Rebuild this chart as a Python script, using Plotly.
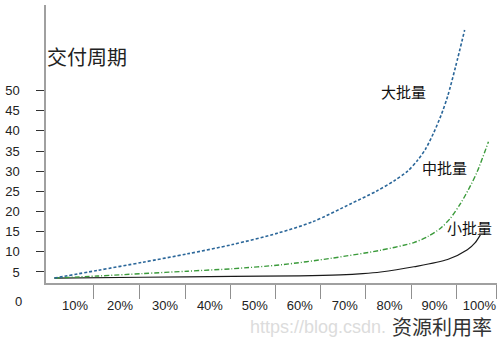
import plotly.graph_objects as go

# utilization (%) and delivery cycle values
large_x = [5.4, 15, 25, 35, 45, 55, 63, 71.5, 77, 81, 84, 86.3, 88, 89.8, 91.5, 92.9, 94.7, 96.7]
large_y = [3.5, 5.4, 7.4, 9.5, 11.8, 14.6, 17.5, 22.0, 25.0, 27.6, 30.0, 32.8, 35.5, 39.5, 44.0, 48.5, 56.0, 65.0]

medium_x = [5.4, 15, 25, 35, 45, 56, 67, 78, 85.4, 88.5, 91.4, 93.5, 95.8, 98.0, 99.5, 102.0]
medium_y = [3.5, 4.0, 4.6, 5.2, 5.8, 6.8, 8.4, 10.4, 12.3, 13.8, 15.9, 18.3, 22.0, 26.4, 29.9, 37.3]

small_x = [5.4, 25, 45, 60, 69, 74, 78, 85.4, 92.9, 97.3, 99, 100.2]
small_y = [3.5, 3.7, 3.9, 4.05, 4.3, 4.6, 5.0, 6.3, 8.1, 10.5, 12.2, 14.2]

series_names = ["大批量", "中批量", "小批量"]
label_pos = [(83.1, 49.7), (92.3, 31.0), (97.8, 16.1)]

y_ticks = [5, 10, 15, 20, 25, 30, 35, 40, 45, 50]
x_ticks = [10, 20, 30, 40, 50, 60, 70, 80, 90, 100]
x_tick_text = [f"{v}%" for v in x_ticks]
x_divs = [14.0, 24.4, 34.6, 44.6, 54.6, 64.6, 74.7, 84.8, 94.8, 103.8]

y_title = "交付周期"
x_title = "资源利用率"
watermark = "https://blog.csdn."

cjk = "Noto Sans CJK SC, Noto Sans, sans-serif"
narrow = "Liberation Sans Narrow, Liberation Sans, Arial, sans-serif"

fig = go.Figure()
fig.add_trace(go.Scatter(x=small_x, y=small_y, mode="lines", name=series_names[2],
                         line=dict(color="#1a1a1a", width=1.2, shape="spline", smoothing=0.8)))
fig.add_trace(go.Scatter(x=medium_x, y=medium_y, mode="lines", name=series_names[1],
                         line=dict(color="#3a9a3a", width=1.4, dash="5px,2px,1px,2px",
                                   shape="spline", smoothing=0.8)))
fig.add_trace(go.Scatter(x=large_x, y=large_y, mode="lines", name=series_names[0],
                         line=dict(color="#2a6699", width=1.6, dash="3px,2px",
                                   shape="spline", smoothing=0.8)))

annotations = [
    dict(text=watermark, xref="paper", yref="paper", x=(247 - 43) / 454,
         y=(283 - 327) / 278, xanchor="left", yanchor="middle", showarrow=False,
         borderpad=0, font=dict(family="Liberation Sans, Arial, sans-serif", size=18, color="#dcdcdc")),
]
for name, (lx, ly) in zip(series_names, label_pos):
    annotations.append(dict(text=name, x=lx, y=ly, xref="x", yref="y", showarrow=False,
                            xanchor="center", yanchor="middle",
                            font=dict(family=cjk, size=15, color="#111111")))
annotations.append(dict(text=y_title, xref="paper", yref="paper", x=0,
                        y=(283 - 57) / 278, xanchor="left", yanchor="middle", showarrow=False,
                        borderpad=0,
                        font=dict(family=cjk, size=20, color="#222222")))
annotations.append(dict(text=x_title, xref="paper", yref="paper", x=(493 - 43) / 454,
                        y=(283 - 326) / 278, xanchor="right", yanchor="middle", showarrow=False,
                        borderpad=0,
                        font=dict(family=cjk, size=20, color="#333333")))
annotations.append(dict(text="0", xref="paper", yref="paper", x=(21 - 43) / 454,
                        y=(283 - 301) / 278, xanchor="right", yanchor="middle", showarrow=False,
                        font=dict(family=narrow, size=13, color="#222222")))

fig.update_layout(
    width=502, height=345,
    margin=dict(l=43, r=5, t=5, b=62),
    paper_bgcolor="white", plot_bgcolor="white",
    showlegend=False,
    annotations=annotations,
    xaxis=dict(range=[3.52, 103.9], showgrid=False, zeroline=False,
               showline=True, linecolor="#a0a0a0", linewidth=1.5,
               tickmode="array", tickvals=x_ticks, ticktext=x_tick_text, ticks="",
               ticklabelstandoff=10,
               tickfont=dict(family=narrow, size=13, color="#222222"),
               minor=dict(tickmode="array", tickvals=x_divs, ticks="outside",
                          ticklen=14, tickcolor="#909090", tickwidth=1.2)),
    yaxis=dict(range=[2.27, 71.2], showgrid=False, zeroline=False,
               showline=True, linecolor="#a0a0a0", linewidth=1.5,
               tickmode="array", tickvals=y_ticks, ticks="outside", ticklen=8,
               tickcolor="#333333", tickwidth=1.2, ticklabelstandoff=14,
               tickfont=dict(family=narrow, size=13, color="#222222")),
)

fig.write_html("out.html")
